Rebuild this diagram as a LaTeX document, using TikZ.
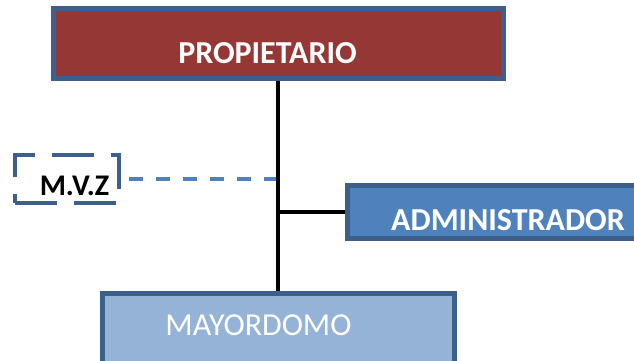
\documentclass[tikz,border=0pt]{standalone}
\usepackage{fontspec}
\setmainfont{Carlito}
\usetikzlibrary{positioning,calc}

\definecolor{rotbraun}{HTML}{953735}
\definecolor{blaurand}{HTML}{3C5F8C}
\definecolor{blau}{HTML}{4F81BD}
\definecolor{hellblau}{HTML}{95B3D7}

\begin{document}
\begin{tikzpicture}[x=1pt,y=-1pt,
		box/.style={rectangle,draw=blaurand,line width=5pt,inner sep=0pt},
		titel/.style={anchor=base,text=white,font=\fontsize{32}{32}\selectfont\bfseries},
		linie/.style={line width=3.8pt,black}]
	\useasboundingbox (0,0) rectangle (634,360);
	\clip (0,0) rectangle (634,360);
	% Knoten
		\node (propietario) at (278,43.5) [box,fill=rotbraun,minimum width=450pt,minimum height=70pt] {};
		\node (mvz) at (67,179) [box,draw=blaurand,line width=4.5pt,dash pattern=on 42pt off 17pt,minimum width=104pt,minimum height=48pt] {};
		\node (admin) at (497.5,212) [box,fill=blau,minimum width=300pt,minimum height=53pt] {};
		\node (mayordomo) at (278,328.5) [box,fill=hellblau,minimum width=352pt,minimum height=70pt] {};
	% Texte
		\node (t1) at (267.5,63) [titel] {PROPIETARIO};
		\node (t2) at (74.5,195) [titel,text=black,font=\fontsize{30}{30}\selectfont\bfseries] {M.V.Z};
		\node (t3) at (508,230) [titel] {ADMINISTRADOR};
		\node (t4) at (258.5,335) [titel,font=\fontsize{32}{32}\selectfont] {MAYORDOMO};
	% Kanten
		\draw[line width=3.8pt,blau,dash pattern=on 14pt off 13pt] (mvz.east -| propietario.south) -- (mvz.east);
		\draw[linie] (propietario) -- (mayordomo);
		\draw[linie] (admin.west) -- (admin.west -| propietario.south);
	\end{tikzpicture}
\end{document}
